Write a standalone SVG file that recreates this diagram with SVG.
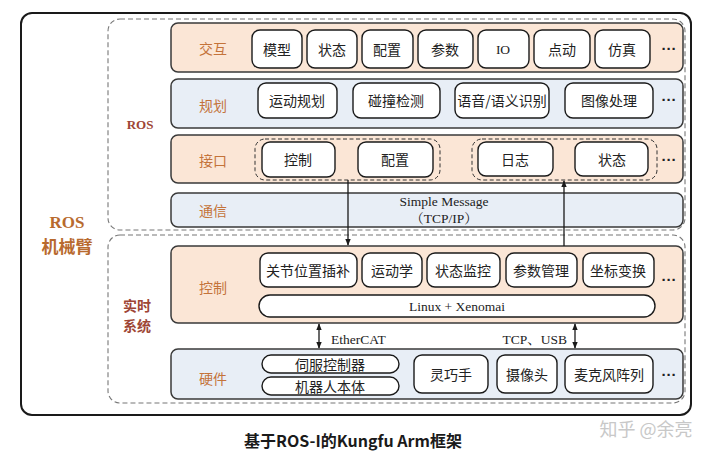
<svg xmlns="http://www.w3.org/2000/svg" width="720" height="460" viewBox="0 0 720 460">
<defs>
<style>
.row{stroke:#3a3a3a;stroke-width:1.5}
.peach{fill:#fbe6d6}
.blue{fill:#e8eef6}
.box{fill:#ffffff;stroke:#1a1a1a;stroke-width:1.4}
.dash{fill:none;stroke:#777;stroke-width:1.1;stroke-dasharray:5 3}
.dashk{fill:none;stroke:#333;stroke-width:1;stroke-dasharray:4 2.5}
.t{font-family:"Noto Sans CJK SC","Noto Sans",sans-serif;font-size:14px;fill:#222;text-anchor:middle;dominant-baseline:central}
.lab{font-family:"Noto Sans CJK SC","Noto Sans",sans-serif;font-size:14px;fill:#c4733a;text-anchor:middle;dominant-baseline:central}
.s{font-family:"Liberation Serif","Noto Serif CJK SC",serif;font-size:13.5px;fill:#222;text-anchor:middle;dominant-baseline:central}
.dots{font-family:"Liberation Sans",sans-serif;font-size:15px;fill:#222;text-anchor:middle;font-weight:bold}
.conn{stroke:#1a1a1a;stroke-width:1.3;fill:none}
</style>
<marker id="ah" viewBox="0 0 10 10" refX="9" refY="5" markerWidth="7" markerHeight="7" orient="auto-start-reverse" markerUnits="userSpaceOnUse">
<path d="M0,1 L10,5 L0,9 Z" fill="#1a1a1a"/>
</marker>
</defs>
<rect width="720" height="460" fill="#ffffff"/>

<g id="outer">
<rect x="21" y="13" width="670" height="402" rx="11" fill="none" stroke="#1a1a1a" stroke-width="2"/>
<text x="67" y="222" font-family="Liberation Serif,serif" font-weight="bold" font-size="17" fill="#b86a2e" text-anchor="middle" dominant-baseline="central">ROS</text>
<text x="67" y="245" font-family="Noto Sans CJK SC,sans-serif" font-weight="bold" font-size="17" fill="#b86a2e" text-anchor="middle" dominant-baseline="central">机械臂</text>
</g>

<g id="ros">
<rect class="dash" x="108" y="19" width="577" height="211" rx="12"/>
<text x="140" y="124" font-family="Liberation Serif,serif" font-weight="bold" font-size="13" fill="#9e4535" text-anchor="middle" dominant-baseline="central">ROS</text>
</g>
<g id="rt">
<rect class="dash" x="108" y="235" width="577" height="168" rx="12"/>
<text x="137" y="305" font-family="Noto Sans CJK SC,sans-serif" font-weight="bold" font-size="14" fill="#9e4535" text-anchor="middle" dominant-baseline="central">实时</text>
<text x="137" y="325" font-family="Noto Sans CJK SC,sans-serif" font-weight="bold" font-size="14" fill="#9e4535" text-anchor="middle" dominant-baseline="central">系统</text>
</g>

<g id="row-jiaohu">
<rect class="row peach" x="171" y="23" width="512" height="49" rx="7"/>
<text class="lab" x="213" y="48">交互</text>
<rect class="box" x="252" y="30" width="50" height="38" rx="8"/><text class="t" x="277" y="49">模型</text>
<rect class="box" x="307" y="30" width="50" height="38" rx="8"/><text class="t" x="332" y="49">状态</text>
<rect class="box" x="362" y="30" width="51" height="38" rx="8"/><text class="t" x="387" y="49">配置</text>
<rect class="box" x="418" y="30" width="55" height="38" rx="8"/><text class="t" x="445" y="49">参数</text>
<rect class="box" x="478" y="30" width="51" height="38" rx="8"/><text class="s" x="503" y="49">IO</text>
<rect class="box" x="534" y="30" width="56" height="38" rx="8"/><text class="t" x="562" y="49">点动</text>
<rect class="box" x="595" y="30" width="55" height="38" rx="8"/><text class="t" x="622" y="49">仿真</text>
<text class="dots" x="669" y="54">···</text>
</g>

<g id="row-guihua">
<rect class="row blue" x="171" y="79" width="512" height="49" rx="7"/>
<text class="lab" x="213" y="105">规划</text>
<rect class="box" x="258" y="83" width="79" height="35" rx="8"/><text class="t" x="297" y="100">运动规划</text>
<rect class="box" x="353" y="83" width="87" height="35" rx="8"/><text class="t" x="396" y="100">碰撞检测</text>
<rect class="box" x="455" y="83" width="94" height="35" rx="8"/><text class="t" x="502" y="100">语音/语义识别</text>
<rect class="box" x="565" y="83" width="88" height="35" rx="8"/><text class="t" x="609" y="100">图像处理</text>
<text class="dots" x="669" y="105">···</text>
</g>

<g id="row-jiekou">
<rect class="row peach" x="171" y="135" width="512" height="48" rx="7"/>
<text class="lab" x="213" y="160">接口</text>
<rect class="dashk" x="255" y="139" width="185" height="41" rx="10"/>
<rect class="box" x="262" y="142" width="73" height="35" rx="8"/><text class="t" x="298" y="159">控制</text>
<rect class="box" x="358" y="142" width="75" height="35" rx="8"/><text class="t" x="395" y="159">配置</text>
<rect class="dashk" x="472" y="139" width="185" height="41" rx="10"/>
<rect class="box" x="478" y="142" width="75" height="34" rx="8"/><text class="t" x="515" y="159">日志</text>
<rect class="box" x="575" y="142" width="73" height="34" rx="8"/><text class="t" x="612" y="159">状态</text>
<text class="dots" x="669" y="165">···</text>
</g>

<g id="row-tongxin">
<rect class="row blue" x="171" y="193" width="512" height="34" rx="7"/>
<text class="lab" x="213" y="210">通信</text>
<text class="s" x="444" y="201">Simple Message</text>
<text class="s" x="444" y="218">（TCP/IP）</text>
</g>

<g id="row-kongzhi">
<rect class="row peach" x="171" y="246" width="512" height="77" rx="7"/>
<text class="lab" x="213" y="287">控制</text>
<rect class="box" x="260" y="253" width="97" height="34" rx="8"/><text class="t" x="308" y="270">关节位置插补</text>
<rect class="box" x="362" y="253" width="60" height="34" rx="8"/><text class="t" x="392" y="270">运动学</text>
<rect class="box" x="427" y="253" width="73" height="34" rx="8"/><text class="t" x="463" y="270">状态监控</text>
<rect class="box" x="506" y="253" width="71" height="34" rx="8"/><text class="t" x="541" y="270">参数管理</text>
<rect class="box" x="583" y="253" width="71" height="34" rx="8"/><text class="t" x="618" y="270">坐标变换</text>
<text class="dots" x="669" y="285">···</text>
<rect class="box" x="259" y="295" width="396" height="22" rx="11"/>
<text class="s" x="457" y="306">Linux + Xenomai</text>
</g>

<g id="row-yingjian">
<rect class="row blue" x="171" y="349" width="512" height="50" rx="7"/>
<text class="lab" x="213" y="378">硬件</text>
<rect class="box" x="262" y="355" width="137" height="18" rx="9"/><text class="t" x="330" y="364">伺服控制器</text>
<rect class="box" x="262" y="377" width="137" height="18" rx="9"/><text class="t" x="330" y="386">机器人本体</text>
<rect class="box" x="414" y="355" width="74" height="38" rx="8"/><text class="t" x="451" y="374">灵巧手</text>
<rect class="box" x="497" y="355" width="60" height="38" rx="8"/><text class="t" x="527" y="374">摄像头</text>
<rect class="box" x="565" y="355" width="88" height="38" rx="8"/><text class="t" x="609" y="374">麦克风阵列</text>
<text class="dots" x="669" y="380">···</text>
</g>

<g id="connectors">
<line class="conn" x1="348" y1="180" x2="348" y2="245" marker-end="url(#ah)"/>
<line class="conn" x1="564" y1="246" x2="564" y2="181" marker-end="url(#ah)"/>
<line class="conn" x1="319" y1="324" x2="319" y2="348" marker-start="url(#ah)" marker-end="url(#ah)"/>
<line class="conn" x1="575" y1="324" x2="575" y2="348" marker-start="url(#ah)" marker-end="url(#ah)"/>
<text class="s" x="331" y="339" style="text-anchor:start">EtherCAT</text>
<text class="s" x="567" y="339" style="text-anchor:end">TCP、USB</text>
</g>

<text x="353" y="440" font-family="Noto Sans CJK SC,sans-serif" font-weight="bold" font-size="16" fill="#1a1a1a" text-anchor="middle" dominant-baseline="central">基于ROS-I的Kungfu Arm框架</text>
<text x="646" y="428" font-family="Noto Sans CJK SC,sans-serif" font-size="18" fill="#c8c8c8" text-anchor="middle" dominant-baseline="central">知乎 @余亮</text>
</svg>
